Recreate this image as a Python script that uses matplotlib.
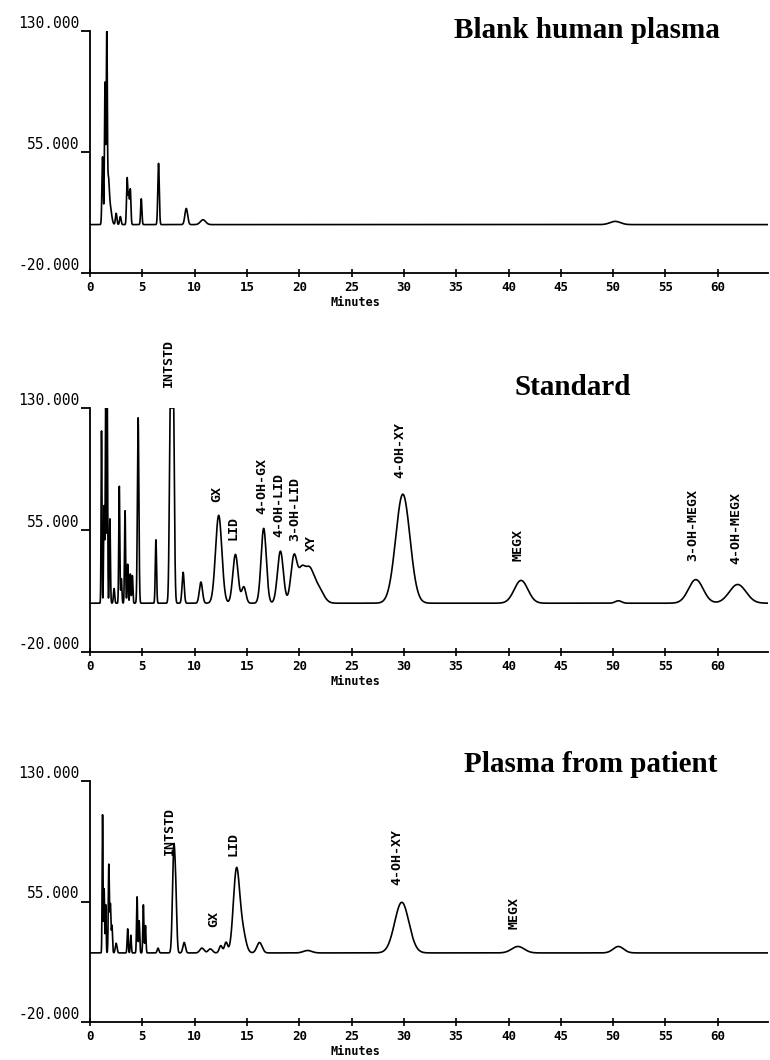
import numpy as np
import matplotlib
matplotlib.use("Agg")
import matplotlib.pyplot as plt

# retention time grid (minutes)
t = np.linspace(0, 64.8, 8000)

# peak tables: time (min), height above baseline, sigma (min)
blank_base = 10
blank_times = [1.2, 1.43, 1.6, 1.75, 1.9, 2.5, 2.9, 3.55, 3.7, 3.85, 4.9, 6.55, 9.2, 10.8, 50.2]
blank_heights = [42, 88, 125, 22, 12, 7, 5, 29, 18, 22, 16, 38, 10, 3, 2]
blank_widths = [0.06, 0.05, 0.05, 0.08, 0.15, 0.07, 0.07, 0.06, 0.05, 0.06, 0.06, 0.07, 0.13, 0.25, 0.5]

std_base = 10
std_times = [1.1, 1.35, 1.5, 1.65, 1.9, 2.3, 2.8, 3.0, 3.35, 3.6, 3.85, 4.05, 4.6, 6.3,
             7.7, 7.95, 8.9, 10.6, 12.3, 13.9, 14.7, 16.6, 18.2, 19.5, 20.2, 20.9, 21.8,
             29.9, 41.2, 50.5, 57.9, 61.9]
std_heights = [106, 60, 125, 122, 52, 9, 72, 15, 57, 24, 18, 17, 114, 39,
               140, 140, 19, 13, 54, 30, 10, 46, 32, 29, 15, 20, 9,
               67, 14, 1.5, 14.5, 11.5]
std_widths = [0.04, 0.05, 0.04, 0.04, 0.05, 0.06, 0.05, 0.05, 0.05, 0.05, 0.05, 0.05, 0.07, 0.06,
              0.1, 0.1, 0.1, 0.15, 0.3, 0.25, 0.2, 0.25, 0.28, 0.3, 0.3, 0.45, 0.5,
              0.68, 0.65, 0.3, 0.7, 0.8]

pat_base = 23
pat_times = [1.2, 1.35, 1.5, 1.8, 1.95, 2.1, 2.5, 3.6, 3.9, 4.5, 4.7, 5.1, 5.3, 6.5,
             8.0, 8.2, 9.0, 10.7, 11.5, 12.5, 13.0, 14.0, 14.6, 16.2, 20.8,
             29.8, 40.9, 50.5]
pat_heights = [86, 40, 30, 55, 30, 17, 6, 15, 11, 35, 20, 30, 17, 3,
               63, 30, 6.5, 3, 2.5, 4.5, 6.5, 51.5, 12, 6.5, 1.5,
               31.5, 4, 4]
pat_widths = [0.04, 0.04, 0.04, 0.05, 0.05, 0.05, 0.08, 0.05, 0.05, 0.05, 0.05, 0.05, 0.05, 0.08,
              0.12, 0.1, 0.12, 0.2, 0.2, 0.15, 0.15, 0.3, 0.3, 0.25, 0.4,
              0.68, 0.6, 0.5]

# peak labels: (text, time, bottom of label in signal units)
std_labels = [("INTSTD", 7.5, 143), ("GX", 12.1, 72), ("LID", 13.7, 49), ("4-OH-GX", 16.4, 65),
              ("4-OH-LID", 18.0, 51), ("3-OH-LID", 19.6, 48), ("XY", 21.2, 42),
              ("4-OH-XY", 29.6, 87), ("MEGX", 40.9, 36), ("3-OH-MEGX", 57.6, 36),
              ("4-OH-MEGX", 61.7, 34)]
pat_labels = [("INTSTD", 7.6, 84), ("GX", 11.8, 39), ("LID", 13.7, 83.5),
              ("4-OH-XY", 29.3, 65.5), ("MEGX", 40.5, 38)]

titles = ["Blank human plasma", "Standard", "Plasma from patient"]
xticks = list(range(0, 61, 5))
yticks = [-20, 55, 130]
ytick_labels = ["-20.000", "55.000", "130.000"]


def trace(base, times, heights, widths):
    y = np.full_like(t, base, dtype=float)
    for t0, h, w in zip(times, heights, widths):
        y += h * np.exp(-0.5 * ((t - t0) / w) ** 2)
    return np.minimum(y, 130)


W, H = 770, 1060
fig = plt.figure(figsize=(W / 100, H / 100), dpi=100)

# axes boxes in pixels: (top at 130, bottom at -20)
boxes = [(31, 273), (408, 652), (781, 1022)]
# title centre x, baseline y in pixels
title_pos = [(587, 38), (573, 395), (591, 772)]

panels = [
    (blank_base, blank_times, blank_heights, blank_widths, []),
    (std_base, std_times, std_heights, std_widths, std_labels),
    (pat_base, pat_times, pat_heights, pat_widths, pat_labels),
]

mono = "DejaVu Sans Mono"
for i, (base, tm, hs, ws, labels) in enumerate(panels):
    top, bot = boxes[i]
    ax = fig.add_axes([90 / W, 1 - bot / H, 678 / W, (bot - top) / H])
    ax.plot(t, trace(base, tm, hs, ws), color="black", lw=1.2)
    ax.set_xlim(0, 64.8)
    ax.set_ylim(-20, 130)
    for s in ["top", "right"]:
        ax.spines[s].set_visible(False)
    ax.spines["left"].set_linewidth(1.3)
    ax.spines["bottom"].set_linewidth(1.3)

    ax.set_yticks(yticks)
    ax.set_yticklabels(ytick_labels, fontfamily=mono, fontsize=10.5)
    for lab in ax.get_yticklabels():
        lab.set_verticalalignment("bottom")
    ax.tick_params(axis="y", direction="out", length=6.5, width=1.3, pad=1)

    ax.set_xticks(xticks)
    ax.set_xticklabels([str(x) for x in xticks], fontfamily=mono, fontsize=9, fontweight="bold")
    ax.tick_params(axis="x", direction="inout", length=6, width=1.2, pad=3)
    ax.text(25.4, -0.094, "Minutes", transform=ax.get_xaxis_transform(),
            ha="center", va="top", fontfamily=mono, fontsize=8.5, fontweight="bold")

    for txt, x, y in labels:
        ax.text(x, y, txt, rotation=90, ha="center", va="bottom", fontfamily=mono,
                fontsize=9.5, fontweight="bold", clip_on=False)

    cx, by = title_pos[i]
    fig.text(cx / W, 1 - by / H, titles[i], ha="center", va="baseline",
             fontfamily="Liberation Serif", fontweight="bold", fontsize=21)

fig.savefig("out.png", dpi=100)
